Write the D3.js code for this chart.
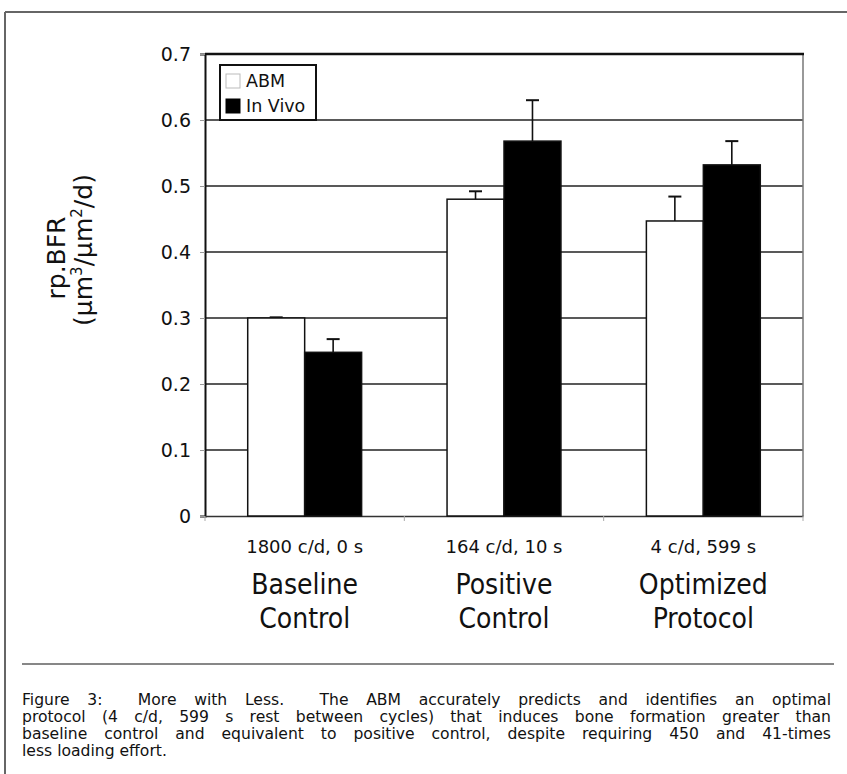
<!DOCTYPE html>
<html><head><meta charset="utf-8">
<script src="https://cdn.jsdelivr.net/npm/d3@7"></script>
<style>body{margin:0;background:#fff;} svg{display:block;}</style>
</head><body>
<svg id="c" width="847" height="774"></svg>
<script>
const categories = ["Baseline Control", "Positive Control", "Optimized Protocol"];
const categoryLine1 = ["Baseline", "Positive", "Optimized"];
const categoryLine2 = ["Control", "Control", "Protocol"];
const protocolLabels = ["1800 c/d, 0 s", "164 c/d, 10 s", "4 c/d, 599 s"];
const series = ["ABM", "In Vivo"];
const abmValues = [0.300, 0.480, 0.447];
const abmErrors = [0.001, 0.012, 0.037];
const inVivoValues = [0.248, 0.568, 0.532];
const inVivoErrors = [0.020, 0.062, 0.036];
const yTicks = [0, 0.1, 0.2, 0.3, 0.4, 0.5, 0.6, 0.7];
const captionLines = [
  "Figure 3:  More with Less.  The ABM accurately predicts and identifies an optimal",
  "protocol (4 c/d, 599 s rest between cycles) that induces bone formation greater than",
  "baseline control and equivalent to positive control, despite requiring 450 and 41-times",
  "less loading effort."
];

const svg = d3.select("#c");
const FONTN = "'Liberation Sans Narrow', 'DejaVu Sans Condensed', sans-serif";
const FONTW = "'DejaVu Sans', Verdana, sans-serif";

// frame
svg.append("line").attr("x1",5).attr("x2",847).attr("y1",12).attr("y2",12).attr("stroke","#666").attr("stroke-width",2);
svg.append("line").attr("x1",5).attr("x2",5).attr("y1",12).attr("y2",774).attr("stroke","#666").attr("stroke-width",2);

const L=205, R=803, T=54, B=516;
const y = d3.scaleLinear().domain([0,0.7]).range([B,T]);
const x0 = d3.scaleBand().domain(categories).range([L,R]).padding(0);
const x1 = d3.scaleBand().domain(series).range([0,x0.bandwidth()]).paddingInner(0).paddingOuter(0.75);

// gridlines
svg.append("g").selectAll("line").data(yTicks.filter(t=>t>0 && t<0.7)).join("line")
  .attr("x1",L).attr("x2",R).attr("y1",d=>y(d)).attr("y2",d=>y(d))
  .attr("stroke","#222").attr("stroke-width",1.6);

// right border
svg.append("line").attr("x1",R).attr("x2",R).attr("y1",T).attr("y2",B).attr("stroke","#777").attr("stroke-width",1.5);
// top thick
svg.append("line").attr("x1",L).attr("x2",R+1).attr("y1",T).attr("y2",T).attr("stroke","#111").attr("stroke-width",2.5);

// y axis
const yAxis = d3.axisLeft(y).tickValues(yTicks).tickSize(5).tickPadding(9).tickFormat(d=>d===0?"0":d3.format(".1f")(d));
const gy = svg.append("g").attr("transform",`translate(${L},0)`).call(yAxis);
gy.select(".domain").attr("stroke","#111").attr("stroke-width",2);
gy.selectAll(".tick line").attr("stroke","#999").attr("stroke-width",1);
gy.selectAll(".tick text").attr("font-family",FONTW).attr("font-size",19).attr("fill","#111").attr("dy","0.36em");

// x axis
const xAxis = d3.axisBottom(x0).tickSize(0).tickFormat("");
const gx = svg.append("g").attr("transform",`translate(0,${B})`).call(xAxis);
gx.select(".domain").attr("stroke","#333").attr("stroke-width",1.5);
svg.append("g").selectAll("line").data([0,1,2,3]).join("line")
  .attr("x1",i=>L+i*x0.step()).attr("x2",i=>L+i*x0.step()).attr("y1",B).attr("y2",B+5)
  .attr("stroke","#aaa").attr("stroke-width",1);

// bars
const rows = categories.map((c,i)=>({c, vals:[
  {s:"ABM", v:abmValues[i], e:abmErrors[i]},
  {s:"In Vivo", v:inVivoValues[i], e:inVivoErrors[i]}]}));
const colors = {"ABM":"#fff","In Vivo":"#000"};
const groups = svg.append("g").selectAll("g").data(rows).join("g").attr("transform",d=>`translate(${x0(d.c)},0)`);
groups.selectAll("g.err").data(d=>d.vals).join("g").attr("class","err").each(function(d){
  const g=d3.select(this); const cx=x1(d.s)+x1.bandwidth()/2;
  g.append("line").attr("x1",cx).attr("x2",cx).attr("y1",y(d.v)).attr("y2",y(d.v+d.e)).attr("stroke","#111").attr("stroke-width",1.6);
  g.append("line").attr("x1",cx-6.5).attr("x2",cx+6.5).attr("y1",y(d.v+d.e)).attr("y2",y(d.v+d.e)).attr("stroke","#111").attr("stroke-width",2);
});
groups.selectAll("rect").data(d=>d.vals).join("rect")
  .attr("x",d=>x1(d.s)).attr("width",x1.bandwidth())
  .attr("y",d=>y(d.v)).attr("height",d=>B-y(d.v))
  .attr("fill",d=>colors[d.s]).attr("stroke","#111").attr("stroke-width",1.5);

// legend
const lg = svg.append("g");
lg.append("rect").attr("x",220).attr("y",65).attr("width",96).attr("height",55).attr("fill","#fff").attr("stroke","#111").attr("stroke-width",2);
series.forEach((s,i)=>{
  lg.append("rect").attr("x",226).attr("y",74+i*25).attr("width",14).attr("height",14)
    .attr("fill",colors[s]).attr("stroke",i===0?"#bbb":"#000").attr("stroke-width",1);
  lg.append("text").attr("x",246).attr("y",87+i*25).text(s).attr("font-family",FONTW).attr("font-size",17.5).attr("fill","#111");
});

// protocol labels
svg.append("g").selectAll("text").data(categories).join("text")
  .attr("x",d=>x0(d)+x0.bandwidth()/2).attr("y",553).attr("text-anchor","middle")
  .attr("font-family",FONTW).attr("font-size",18).attr("fill","#111").text((d,i)=>protocolLabels[i]);
svg.append("g").selectAll("text").data(categories).join("text")
  .attr("x",d=>x0(d)+x0.bandwidth()/2).attr("y",594).attr("text-anchor","middle")
  .attr("font-family",FONTN).attr("font-size",28).attr("fill","#111").text((d,i)=>categoryLine1[i]);
svg.append("g").selectAll("text").data(categories).join("text")
  .attr("x",d=>x0(d)+x0.bandwidth()/2).attr("y",628).attr("text-anchor","middle")
  .attr("font-family",FONTN).attr("font-size",28).attr("fill","#111").text((d,i)=>categoryLine2[i]);

// y title
svg.append("text").attr("transform","translate(65,258) rotate(-90)").attr("text-anchor","middle")
  .attr("font-family",FONTW).attr("font-size",25).attr("fill","#111").text("rp.BFR");
const t2 = svg.append("text").attr("transform","translate(92,250) rotate(-90)").attr("text-anchor","middle")
  .attr("font-family",FONTW).attr("font-size",25).attr("fill","#111");
t2.append("tspan").text("(µm");
t2.append("tspan").attr("font-size",15).attr("dy",-10).text("3");
t2.append("tspan").attr("dy",10).text("/µm");
t2.append("tspan").attr("font-size",15).attr("dy",-10).text("2");
t2.append("tspan").attr("dy",10).text("/d)");

// separator
svg.append("line").attr("x1",22).attr("x2",834).attr("y1",664).attr("y2",664).attr("stroke","#111").attr("stroke-width",1.2);

// caption, justified
const capL=22, capR=831, capFS=15.6;
captionLines.forEach((line,li)=>{
  const yy = 705 + li*17;
  const g = svg.append("g");
  if (li === captionLines.length-1) {
    g.append("text").attr("x",capL).attr("y",yy).attr("font-family",FONTW).attr("font-size",capFS).attr("fill","#111").text(line);
    return;
  }
  const parts = line.split(/( +)/);
  const words=[], gaps=[];
  parts.forEach(p=>{ if(/^ +$/.test(p)) gaps.push(p.length); else if(p) words.push(p); });
  const nodes = words.map(w=>g.append("text").attr("y",yy).attr("font-family",FONTW).attr("font-size",capFS).attr("fill","#111").text(w));
  const widths = nodes.map(n=>n.node().getComputedTextLength());
  const total = d3.sum(widths);
  const units = d3.sum(gaps);
  const unit = (capR-capL-total)/units;
  let xx = capL;
  nodes.forEach((n,i)=>{ n.attr("x",xx); xx += widths[i] + (i<gaps.length? gaps[i]*unit:0); });
});
</script>
</body></html>
